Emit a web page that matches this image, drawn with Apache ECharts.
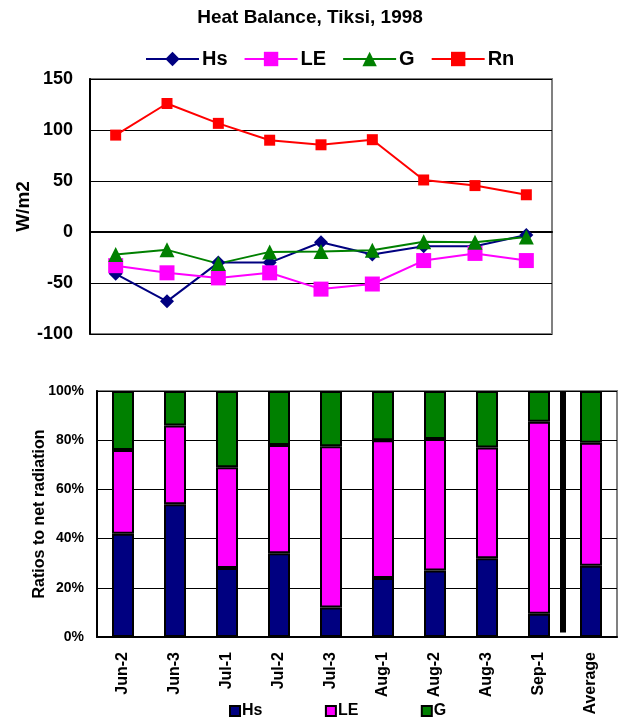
<!DOCTYPE html>
<html><head><meta charset="utf-8">
<script src="https://cdn.jsdelivr.net/npm/echarts@6/dist/echarts.min.js"></script>
<style>html,body{margin:0;padding:0;background:#fff}#c{width:620px;height:720px}</style>
</head><body><div id="c"></div>
<script>
const periods = ['Jun-2','Jun-3','Jul-1','Jul-2','Jul-3','Aug-1','Aug-2','Aug-3','Sep-1'];
const ratioCats = ['Jun-2','Jun-3','Jul-1','Jul-2','Jul-3','Aug-1','Aug-2','Aug-3','Sep-1','Average'];
const hs = [-41,-68,-30,-30,-10,-22,-14,-14,-3];
const le = [-33,-40,-45,-40,-56,-51,-28,-21,-28];
const g  = [-22,-17.5,-31,-19.5,-19,-18,-9.5,-10,-5];
const rn = [95,126,106.5,90,85.5,90.5,51,45.5,36.5];
const hsRatio = [42,54,28,34,12,24,27,32,9.5,29];
const leRatio = [34,32,41,44,65.5,56,53.5,45,78,50];
const gRatio  = [24,14,31,22,22.5,20,19.5,23,12.5,21];

const FONT = "'Liberation Sans', Arial, sans-serif";
const C = {hs:'#000080', le:'#ff00ff', g:'#008000', rn:'#ff0000'};
const chart = echarts.init(document.getElementById('c'), null, {renderer:'canvas'});

const lineS = (name, data, color, symbol, size) => ({
  name, type:'line', data, xAxisIndex:0, yAxisIndex:0,
  symbol, symbolSize:size, showSymbol:true,
  lineStyle:{color, width:2}, itemStyle:{color},
  z: 3
});
const barS = (name, data, color) => ({
  name, type:'bar', stack:'r', data, xAxisIndex:1, yAxisIndex:1,
  barWidth:22, itemStyle:{color, borderColor:'#000', borderWidth:2}
});

chart.setOption({
  animation:false,
  backgroundColor:'#fff',
  textStyle:{fontFamily:FONT},
  title:{text:'Heat Balance, Tiksi, 1998', left:'center', top:3,
    textStyle:{fontFamily:FONT, fontSize:19, fontWeight:'bold', color:'#000'}},
  legend:[{
    data:['Hs','LE','G','Rn'], left:140, top:44, itemWidth:53, itemHeight:18, itemGap:16,
    textStyle:{fontFamily:FONT, fontSize:20, fontWeight:'bold', color:'#000', padding:[0,0,0,-2]}
  },{
    data:['Hs ','LE ','G '], left:224, top:698, itemWidth:10, itemHeight:10, itemGap:58,
    icon:'rect',
    textStyle:{fontFamily:FONT, fontSize:16, fontWeight:'bold', color:'#000', padding:[0,0,0,-3]}
  }],
  grid:[
    {left:90, top:79, width:462, height:255, show:true, borderColor:'#808080', borderWidth:2},
    {left:97, top:391, width:520, height:246, show:true, borderColor:'#808080', borderWidth:2}
  ],
  xAxis:[
    {type:'category', data:periods, gridIndex:0, boundaryGap:true,
     axisLine:{lineStyle:{color:'#000', width:2}},
     axisTick:{inside:true, length:5, lineStyle:{color:'#000', width:1}},
     axisLabel:{show:false}, splitLine:{show:false}},
    {type:'category', data:ratioCats, gridIndex:1, boundaryGap:true,
     axisLine:{lineStyle:{color:'#000', width:2}},
     axisTick:{inside:true, length:5, lineStyle:{color:'#000', width:1}},
     axisLabel:{rotate:90, margin:15, fontFamily:FONT, fontSize:16, fontWeight:'bold', color:'#000'},
     splitLine:{show:false}}
  ],
  yAxis:[
    {type:'value', gridIndex:0, min:-100, max:150, interval:50,
     name:'W/m2', nameLocation:'middle', nameGap:57, nameMoveOverlap:false,
     nameTextStyle:{fontFamily:FONT, fontSize:19, fontWeight:'bold', color:'#000'},
     axisLine:{show:true, lineStyle:{color:'#000', width:2}},
     axisTick:{show:false},
     axisLabel:{margin:17, fontFamily:FONT, fontSize:18, fontWeight:'bold', color:'#000'},
     splitLine:{lineStyle:{color:'#000', width:1}}},
    {type:'value', gridIndex:1, min:0, max:100, interval:20,
     name:'Ratios to net radiation', nameLocation:'middle', nameGap:49, nameMoveOverlap:false,
     nameTextStyle:{fontFamily:FONT, fontSize:16, fontWeight:'bold', color:'#000'},
     axisLine:{show:true, lineStyle:{color:'#000', width:2}},
     axisTick:{show:false},
     axisLabel:{margin:13, formatter:'{value}%', fontFamily:FONT, fontSize:14, fontWeight:'bold', color:'#000'},
     splitLine:{lineStyle:{color:'#000', width:1}}}
  ],
  series:[
    lineS('Hs', hs, C.hs, 'diamond', 14),
    lineS('LE', le, C.le, 'rect', 15),
    lineS('G', g, C.g, 'triangle', 15),
    lineS('Rn', rn, C.rn, 'rect', 11),
    barS('Hs ', hsRatio, C.hs),
    barS('LE ', leRatio, C.le),
    barS('G ', gRatio, C.g)
  ]
});

const pA = chart.convertToPixel({xAxisIndex:1, yAxisIndex:1}, ['Sep-1', 100]);
const pB = chart.convertToPixel({xAxisIndex:1, yAxisIndex:1}, ['Average', 1.8]);
chart.setOption({
  graphic:[{type:'rect', shape:{x:(pA[0]+pB[0])/2 - 5, y:pA[1], width:6, height:pB[1]-pA[1]},
    style:{fill:'#000'}, z:10}]
});
</script></body></html>
